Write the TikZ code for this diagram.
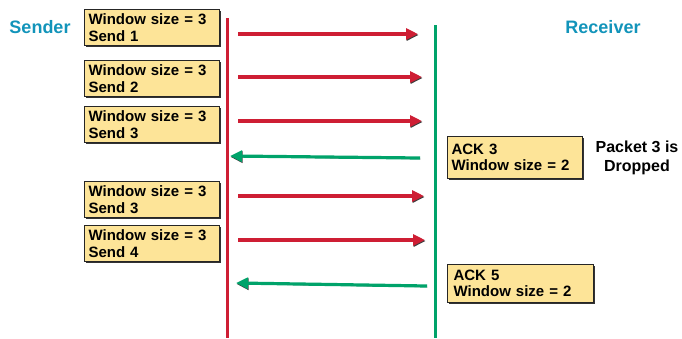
\documentclass[tikz,border=0pt]{standalone}
\usepackage{fontspec}
\setmainfont{Liberation Sans}
\usetikzlibrary{positioning, arrows.meta, shadows}
\definecolor{EmisorRojo}{RGB}{206,30,52}
\definecolor{ReceptorVerde}{RGB}{0,163,106}
\definecolor{TituloAzul}{RGB}{18,148,186}
\definecolor{CajaAmarilla}{RGB}{253,228,152}

\begin{document}
\begin{tikzpicture}[x=1pt, y=-1pt, >={Triangle[length=12pt, width=11pt]},
  caja/.style={rectangle, draw=black!85, line width=1.1pt, fill=CajaAmarilla, anchor=north west, align=left, inner xsep=4pt, inner ysep=2pt, text width=127pt, minimum height=36pt, font=\fontsize{15}{16.5}\selectfont\bfseries, drop shadow={shadow xshift=1.6pt, shadow yshift=-1.6pt, fill=black!80, opacity=1}},
  titulo/.style={text=TituloAzul, font=\fontsize{18}{20}\selectfont\bfseries},
  vida/.style={line width=3pt, preaction={draw=black!70, line width=3pt, transform canvas={xshift=0.8pt}}},
  envio/.style={->, line width=3.2pt, draw=EmisorRojo, fill=EmisorRojo, preaction={draw=black!75, fill=black!75, transform canvas={xshift=0.6pt, yshift=-1pt}}},
  acuse/.style={->, line width=3.2pt, draw=ReceptorVerde, fill=ReceptorVerde, preaction={draw=black!75, fill=black!75, transform canvas={xshift=0.6pt, yshift=-1pt}}}]
  \useasboundingbox (0,0) rectangle (682,338);

  % titles
  \node[titulo] (sender) at (40,27) {Sender};
  \node[titulo] (receiver) at (603,27) {Receiver};

  % lifelines
  \coordinate (sTop) at (227,18);
  \coordinate (sBot) at (227,338);
  \coordinate (rTop) at (435,25);
  \coordinate (rBot) at (435,338);
  \draw[vida, EmisorRojo] (sTop) -- (sBot);
  \draw[vida, ReceptorVerde] (rTop) -- (rBot);

  % sender side
  \node[caja] (w1) at (84,9) {Window size = 3\\Send 1};
  \node[caja] (w2) at (84,60) {Window size = 3\\Send 2};
  \node[caja] (w3) at (84,106) {Window size = 3\\Send 3};
  \node[caja] (w4) at (84,181) {Window size = 3\\Send 3};
  \node[caja] (w5) at (84,225) {Window size = 3\\Send 4};

  % receiver side
  \node[caja, minimum height=42pt] (ack3) at (447,136) {ACK 3\\Window size = 2};
  \node[caja, minimum height=38pt, text width=134pt, inner xsep=6pt] (ack5) at (447,264) {ACK 5\\Window size = 2};
  \node[align=center, font=\fontsize{16}{19.5}\selectfont\bfseries] (drop) at (637,158) {Packet 3 is\\Dropped};

  % segments
  \coordinate (a1) at (238,34);  \coordinate (b1) at (418,34);
  \coordinate (a2) at (238,77);  \coordinate (b2) at (422,77);
  \coordinate (a3) at (238,121); \coordinate (b3) at (422,121);
  \coordinate (a4) at (238,196); \coordinate (b4) at (424,196);
  \coordinate (a5) at (238,240); \coordinate (b5) at (425,240);
  \coordinate (c1) at (420,158); \coordinate (d1) at (230,156);
  \coordinate (c2) at (427,286); \coordinate (d2) at (236,283);
  \draw[envio] (a1) -- (b1);
  \draw[envio] (a2) -- (b2);
  \draw[envio] (a3) -- (b3);
  \draw[acuse] (c1) -- (d1);
  \draw[envio] (a4) -- (b4);
  \draw[envio] (a5) -- (b5);
  \draw[acuse] (c2) -- (d2);
\end{tikzpicture}
\end{document}
